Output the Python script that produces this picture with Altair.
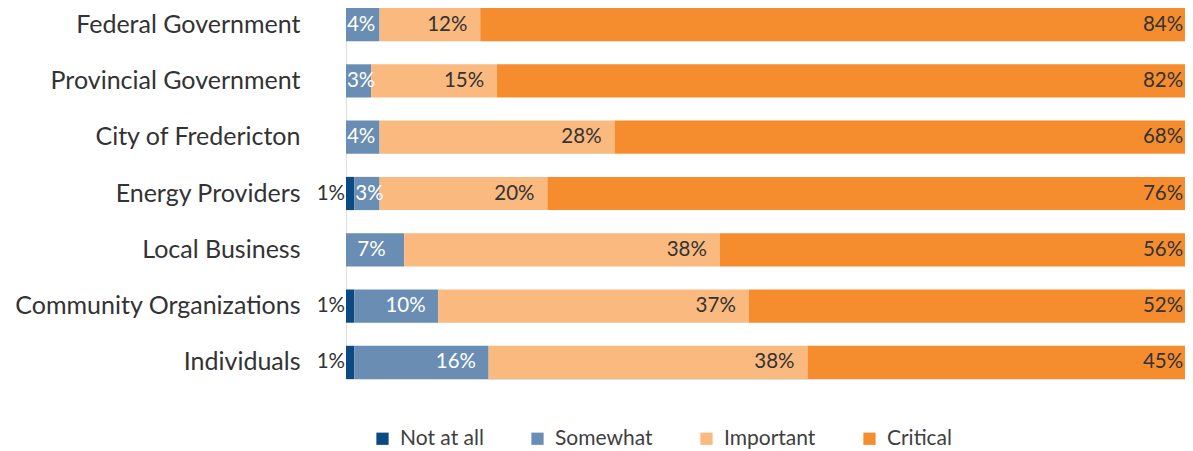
import altair as alt
import pandas as pd

orgs = ["Federal Government", "Provincial Government", "City of Fredericton",
        "Energy Providers", "Local Business", "Community Organizations", "Individuals"]
levels = ["Not at all", "Somewhat", "Important", "Critical"]
not_at_all = [0, 0, 0, 1, 0, 1, 1]
somewhat = [4, 3, 4, 3, 7, 10, 16]
important = [12, 15, 28, 20, 38, 37, 38]
critical = [84, 82, 68, 76, 56, 52, 45]
colors = ["#0b4a82", "#6a8db3", "#f9b97f", "#f58d2e"]

rows = []
for i, o in enumerate(orgs):
    for k, (lv, vals) in enumerate(zip(levels, [not_at_all, somewhat, important, critical])):
        rows.append({"org": o, "level": lv, "value": vals[i], "order": k})
df = pd.DataFrame(rows)

FONT = "Lato"
DARK = "#333333"

base = (
    alt.Chart(df)
    .transform_filter("datum.value > 0")
    .transform_stack(stack="value", as_=["start", "end"], groupby=["org"],
                     sort=[alt.SortField("order", order="ascending")], offset="normalize")
    .transform_calculate(label="datum.value + '%'")
)

y_enc = alt.Y("org:N", sort=orgs, title=None,
              scale=alt.Scale(paddingInner=0.41, paddingOuter=0),
              axis=alt.Axis(labelFont=FONT, labelFontSize=25, labelColor=DARK, ticks=False,
                            domain=False, labelPadding=46, labelLimit=0, grid=False))
x_scale = alt.Scale(domain=[0, 1], nice=False)

bars = base.mark_bar().encode(
    x=alt.X("start:Q", scale=x_scale, axis=None),
    x2="end:Q",
    y=y_enc,
    color=alt.Color("level:N", sort=levels, scale=alt.Scale(domain=levels, range=colors),
                    legend=alt.Legend(title=None, orient="none", direction="horizontal",
                                      legendX=26, legendY=420, symbolType="square",
                                      symbolSize=150, symbolStrokeWidth=0,
                                      labelFont=FONT, labelFontSize=21, labelColor="#404040",
                                      columnPadding=43, labelOffset=7)),
)

t_not = base.transform_filter("datum.level == 'Not at all'").mark_text(
    align="right", baseline="middle", dx=-1, font=FONT, fontSize=20.5, color=DARK
).encode(x=alt.X("start:Q", scale=x_scale), y=alt.Y("org:N", sort=orgs), text="label:N")

t_some = base.transform_filter("datum.level == 'Somewhat'").transform_calculate(
    pos="max(datum.end - 0.039, datum.start + 0.018)"
).mark_text(
    align="center", baseline="middle", font=FONT, fontSize=20.5, color="white"
).encode(x=alt.X("pos:Q", scale=x_scale), y=alt.Y("org:N", sort=orgs), text="label:N")

t_imp = base.transform_filter("datum.level == 'Important'").mark_text(
    align="center", baseline="middle", dx=-33, font=FONT, fontSize=20.5, color=DARK
).encode(x=alt.X("end:Q", scale=x_scale), y=alt.Y("org:N", sort=orgs), text="label:N")

t_crit = base.transform_filter("datum.level == 'Critical'").mark_text(
    align="center", baseline="middle", dx=-22, font=FONT, fontSize=20.5, color=DARK
).encode(x=alt.X("end:Q", scale=x_scale), y=alt.Y("org:N", sort=orgs), text="label:N")

chart = (
    alt.layer(bars, t_not, t_some, t_imp, t_crit)
    .properties(width=839, height=371, autosize="none",
                padding={"left": 338, "top": 0, "right": 0, "bottom": 74})
    .configure_view(stroke=None)
    .configure(background="white")
)

chart.save("out.html", embed_options={"renderer": "svg", "actions": False})
